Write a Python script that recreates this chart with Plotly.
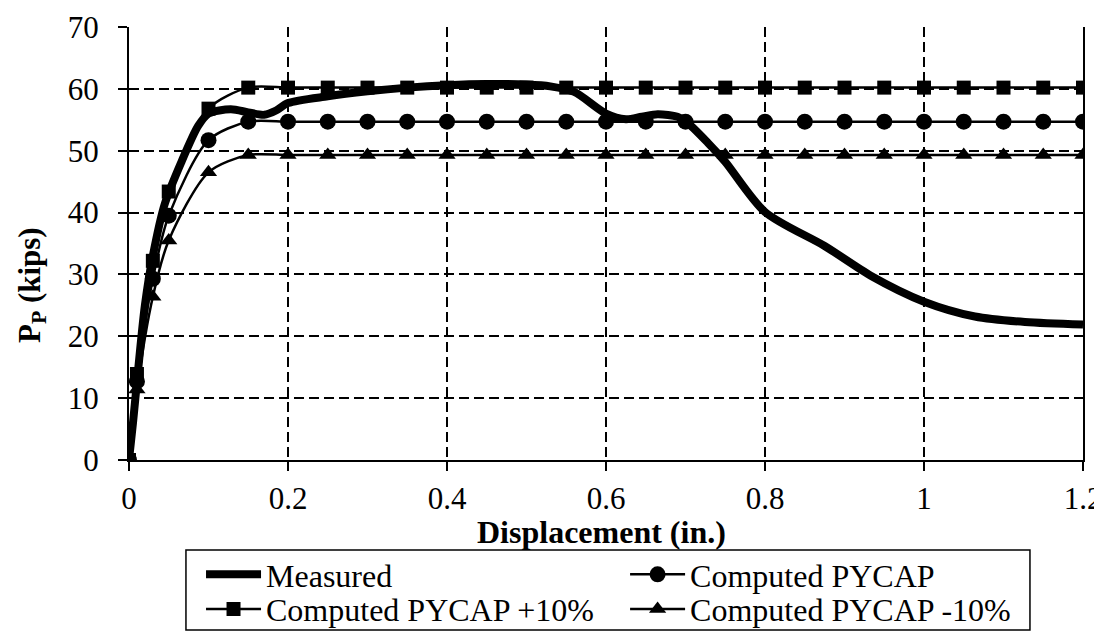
import plotly.graph_objects as go

# Measured curve
meas_x = [0, 0.005, 0.01, 0.02, 0.03, 0.045, 0.066, 0.087, 0.1, 0.128, 0.15, 0.17, 0.185,
          0.2, 0.25, 0.3, 0.35, 0.4, 0.45, 0.5, 0.53, 0.56, 0.6, 0.625, 0.645, 0.665, 0.69,
          0.7, 0.728, 0.75, 0.8, 0.875, 0.933, 1.0, 1.064, 1.127, 1.2]
meas_y = [0, 6, 12.6, 25, 33, 41.4, 48.2, 54, 56, 56.7, 56.2, 55.8, 56.5,
          57.7, 58.8, 59.6, 60.2, 60.6, 60.8, 60.7, 60.4, 59.5, 56, 55.1, 55.5, 55.9, 55.5,
          54.8, 51.3, 48.2, 40.1, 34.6, 29.8, 25.6, 23.2, 22.3, 21.9]

# Computed curves
comp_x = [0, 0.01, 0.03, 0.05, 0.1, 0.15, 0.2, 0.25, 0.3, 0.35, 0.4, 0.45, 0.5, 0.55, 0.6,
          0.65, 0.7, 0.75, 0.8, 0.85, 0.9, 0.95, 1.0, 1.05, 1.1, 1.15, 1.2]
pycap_y = [0, 12.7, 29.3, 39.5, 51.7, 54.7, 54.7, 54.7, 54.7, 54.7, 54.7, 54.7, 54.7, 54.7, 54.7,
           54.7, 54.7, 54.7, 54.7, 54.7, 54.7, 54.7, 54.7, 54.7, 54.7, 54.7, 54.7]
plus10_y = [0, 13.9, 32.2, 43.4, 56.8, 60.2, 60.2, 60.2, 60.2, 60.2, 60.2, 60.2, 60.2, 60.2, 60.2,
            60.2, 60.2, 60.2, 60.2, 60.2, 60.2, 60.2, 60.2, 60.2, 60.2, 60.2, 60.2]
minus10_y = [0, 11.4, 26.4, 35.5, 46.5, 49.3, 49.3, 49.3, 49.3, 49.3, 49.3, 49.3, 49.3, 49.3, 49.3,
             49.3, 49.3, 49.3, 49.3, 49.3, 49.3, 49.3, 49.3, 49.3, 49.3, 49.3, 49.3]

x_ticks = [0, 0.2, 0.4, 0.6, 0.8, 1.0, 1.2]
x_tick_text = ["0", "0.2", "0.4", "0.6", "0.8", "1", "1.2"]
y_ticks = [0, 10, 20, 30, 40, 50, 60, 70]

FONT = "Liberation Serif, Times New Roman, serif"

fig = go.Figure()
fig.add_trace(go.Scatter(x=meas_x, y=meas_y, mode="lines", name="Measured",
                         line=dict(color="black", width=8, shape="spline", smoothing=0.8),
                         legend="legend"))
fig.add_trace(go.Scatter(x=comp_x, y=pycap_y, mode="lines+markers", name="Computed PYCAP",
                         line=dict(color="black", width=2.5, shape="spline", smoothing=0.8),
                         marker=dict(symbol="circle", size=16, color="black"),
                         legend="legend2"))
fig.add_trace(go.Scatter(x=comp_x, y=plus10_y, mode="lines+markers", name="Computed PYCAP +10%",
                         line=dict(color="black", width=2.5, shape="spline", smoothing=0.8),
                         marker=dict(symbol="square", size=14, color="black"),
                         legend="legend3"))
fig.add_trace(go.Scatter(x=comp_x, y=minus10_y, mode="lines+markers", name="Computed PYCAP -10%",
                         line=dict(color="black", width=2.5, shape="spline", smoothing=0.8),
                         marker=dict(symbol="triangle-up", size=15, color="black"),
                         legend="legend4"))

axis_common = dict(showline=True, linecolor="black", linewidth=2, ticks="outside",
                   tickcolor="black", tickwidth=1.5, showgrid=True, gridcolor="black",
                   gridwidth=1.5, griddash="10px,5px", zeroline=False, automargin=False,
                   tickfont=dict(family=FONT, size=31, color="black"))

fig.update_xaxes(range=[0, 1.2], tickvals=x_ticks, ticktext=x_tick_text, ticklen=9,
                 ticklabelstandoff=1, **axis_common)
fig.update_yaxes(range=[0, 70], tickvals=y_ticks, ticklen=9, ticklabelstandoff=13,
                 mirror=True, **axis_common)

fig.add_annotation(text="<b>Displacement (in.)</b>", xref="paper", yref="paper",
                   x=0.4948, y=-0.167, showarrow=False, xanchor="center", yanchor="middle",
                   font=dict(family=FONT, size=32, color="black"))
fig.add_annotation(text="<b>P<sub>P</sub> (kips)</b>", xref="paper", yref="paper",
                   x=-0.1017, y=0.404, showarrow=False, textangle=-90, xanchor="center",
                   yanchor="middle", font=dict(family=FONT, size=31, color="black"))

fig.add_shape(type="rect", xref="paper", yref="paper", x0=0.0597, x1=0.9444,
              y0=-0.3928, y1=-0.2077, line=dict(color="black", width=1.5))

leg_font = dict(family=FONT, size=32, color="black")
leg_common = dict(xanchor="left", yanchor="top", orientation="v", font=leg_font,
                  itemwidth=55, borderwidth=0, bgcolor="rgba(0,0,0,0)")
fig.update_layout(
    width=1102, height=641,
    margin=dict(l=121, r=27, t=19, b=178),
    paper_bgcolor="white", plot_bgcolor="white",
    legend=dict(x=0.0755, y=-0.2010, **leg_common),
    legend2=dict(x=0.520, y=-0.2010, **leg_common),
    legend3=dict(x=0.0755, y=-0.2810, **leg_common),
    legend4=dict(x=0.520, y=-0.2810, **leg_common),
    showlegend=True,
)

fig.write_html("out.html")
